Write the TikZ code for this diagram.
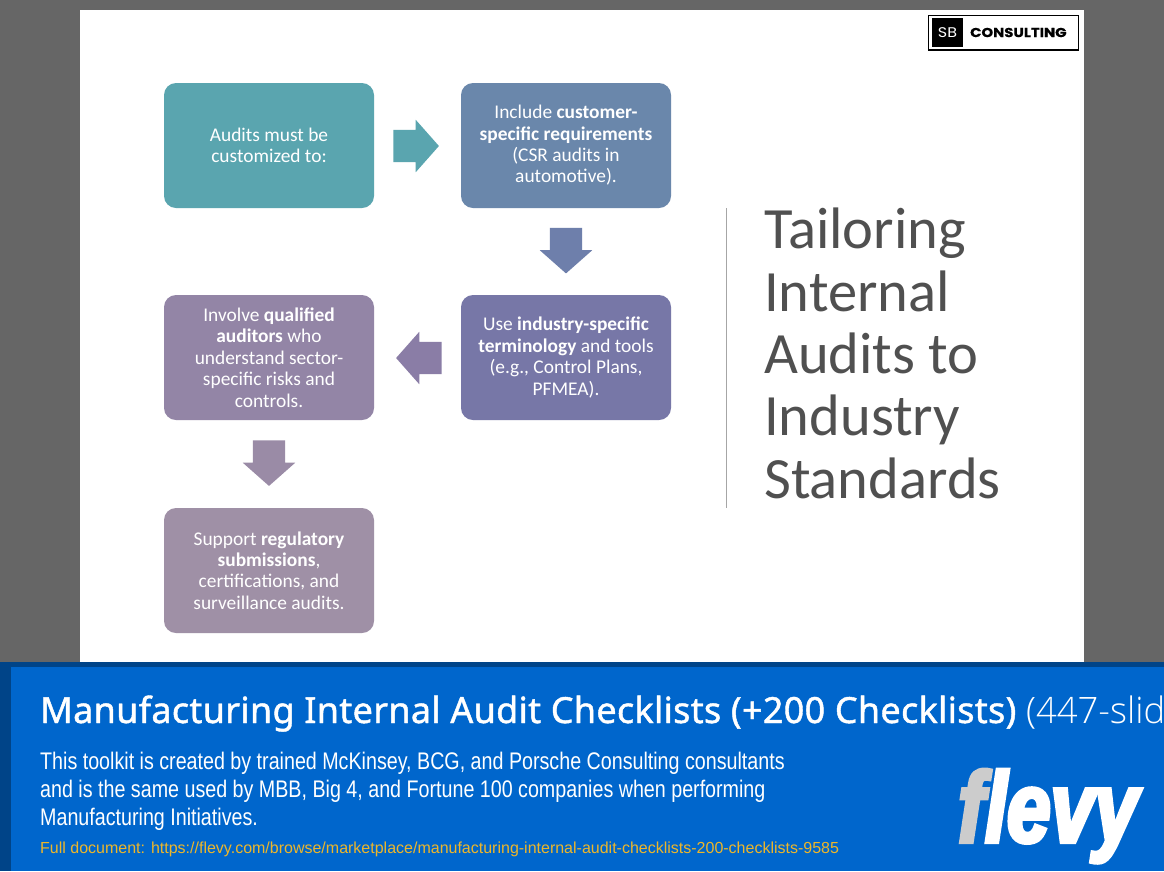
\documentclass[tikz,border=0pt]{standalone}
\usepackage{fontspec}
\usetikzlibrary{shapes.arrows}
\setmainfont{Carlito}
\newfontfamily\headfont[FakeBold=1.2,LetterSpace=0.8]{Noto Sans}
\newfontfamily\lightfont{Open Sans Light}
\newfontfamily\bodyfont[FakeStretch=0.82]{Liberation Sans}
\newfontfamily\linkfont{Liberation Sans}
\newfontfamily\brandfont[FakeStretch=1.14,BoldFeatures={FakeBold=0.5}]{Poppins}
\newfontfamily\flevyfont[FakeBold=4,FakeStretch=0.785]{Liberation Sans}
\definecolor{slidegray}{HTML}{666666}
\definecolor{bannerblue}{HTML}{0066CC}
\definecolor{bannerdark}{HTML}{004488}
\definecolor{linkgold}{HTML}{EDB62A}
\definecolor{titlegray}{HTML}{505050}
\definecolor{tealbox}{HTML}{5AA5AF}
\definecolor{bluebox}{HTML}{6A87AB}
\definecolor{indigobox}{HTML}{7777A7}
\definecolor{mauvebox}{HTML}{9385A6}
\definecolor{greybox}{HTML}{9F90A6}
\definecolor{indigoarrow}{HTML}{6E7FAB}
\definecolor{purplearrow}{HTML}{8A7DA6}
\definecolor{mauvearrow}{HTML}{9A8BA6}
\tikzset{
	stepbox/.style={rounded corners=12pt, minimum width=210pt, minimum height=125pt, inner sep=0pt, text=white, align=center, font=\fontsize{19.4}{21.4}\selectfont},
	blockarrow/.style={single arrow, single arrow tip angle=97, single arrow head extend=10pt, text height=32pt, text depth=0pt, minimum height=45.5pt, inner sep=0pt},
	bannerline/.style={anchor=base west, inner sep=0pt, text=white}
}

\begin{document}
\begin{tikzpicture}[x=1pt, y=-1pt]
	%%%%% START %%%%%
	\useasboundingbox (0, 0) rectangle (1164, 871);

	\fill[slidegray] (0, 0) rectangle (1164, 871);
	\fill[white] (80, 10) rectangle (1084, 662);

	\draw[line width=1.5pt, fill=white] (928.5, 15.5) rectangle (1078.5, 50);
	\node[fill=black, text=white, minimum width=31pt, minimum height=29pt, inner sep=0pt, font=\brandfont\fontsize{14}{14}\selectfont] (logomark) at (947.5, 32.5) {SB};
	\node[anchor=west, inner sep=0pt, font=\brandfont\bfseries\fontsize{13}{13}\selectfont] (logotext) at (970, 32.5) {CONSULTING};

	\node[stepbox, fill=tealbox] (auditbox) at (269, 145.5) {Audits must be\\customized to:};
	\node[stepbox, fill=bluebox] (customerbox) at (566, 145.5) {Include \textbf{customer-}\\\textbf{specific requirements}\\(CSR audits in\\automotive).};
	\node[stepbox, fill=indigobox] (termsbox) at (566, 357.5) {Use \textbf{industry-specific}\\\textbf{terminology} and tools\\(e.g., Control Plans,\\PFMEA).};
	\node[stepbox, fill=mauvebox] (qualifiedbox) at (269, 357.5) {Involve \textbf{qualified}\\\textbf{auditors} who\\understand sector-\\specific risks and\\controls.};
	\node[stepbox, fill=greybox] (supportbox) at (269, 570.5) {Support \textbf{regulatory}\\\textbf{submissions},\\certifications, and\\surveillance audits.};

	\node[blockarrow, fill=tealbox] (arrowone) at (409, 146) {};
	\node[blockarrow, fill=indigoarrow, rotate=-90] (arrowtwo) at (566, 243.5) {};
	\node[blockarrow, fill=purplearrow, rotate=180] (arrowthree) at (426, 358) {};
	\node[blockarrow, fill=mauvearrow, rotate=-90] (arrowfour) at (269, 456) {};

	\draw[color=black!35, line width=0.8pt] (726.5, 208) -- (726.5, 508);
	\node[anchor=north west, inner sep=0pt, align=left, text=titlegray, font=\fontsize{58.5}{62.3}\selectfont] (titletext) at (764, 208) {Tailoring\\Internal\\Audits to\\Industry\\Standards};

	\fill[bannerdark] (0, 662) rectangle (1164, 871);
	\fill[bannerblue] (11, 667) rectangle (1164, 871);

	\node[bannerline, font=\headfont\fontsize{36}{36}\selectfont] (bannertitle) at (40, 723) {Manufacturing Internal Audit Checklists (+200 Checklists)};
	\node[bannerline, font=\lightfont\fontsize{36.4}{36}\selectfont] (bannerslides) at (1026, 723) {(447-slid};
	\node[bannerline, font=\bodyfont\fontsize{24}{24}\selectfont] (bannerone) at (40, 769) {This toolkit is created by trained McKinsey, BCG, and Porsche Consulting consultants};
	\node[bannerline, font=\bodyfont\fontsize{24}{24}\selectfont] (bannertwo) at (40, 797) {and is the same used by MBB, Big 4, and Fortune 100 companies when performing};
	\node[bannerline, font=\bodyfont\fontsize{24}{24}\selectfont] (bannerthree) at (40, 825) {Manufacturing Initiatives.};
	\node[bannerline, text=linkgold, font=\linkfont\fontsize{16}{16}\selectfont] (bannerlink) at (40, 853) {Full document: https://flevy.com/browse/marketplace/manufacturing-internal-audit-checklists-200-checklists-9585};

	\node[bannerline, text=black!20, font=\flevyfont\bfseries\itshape\fontsize{100}{100}\selectfont] (flevyf) at (958, 842) {f};
	\node[bannerline, font=\flevyfont\bfseries\itshape\fontsize{100}{100}\selectfont] (flevyrest) at (985, 842) {levy};
	%%%%% END %%%%%
\end{tikzpicture}
\end{document}
